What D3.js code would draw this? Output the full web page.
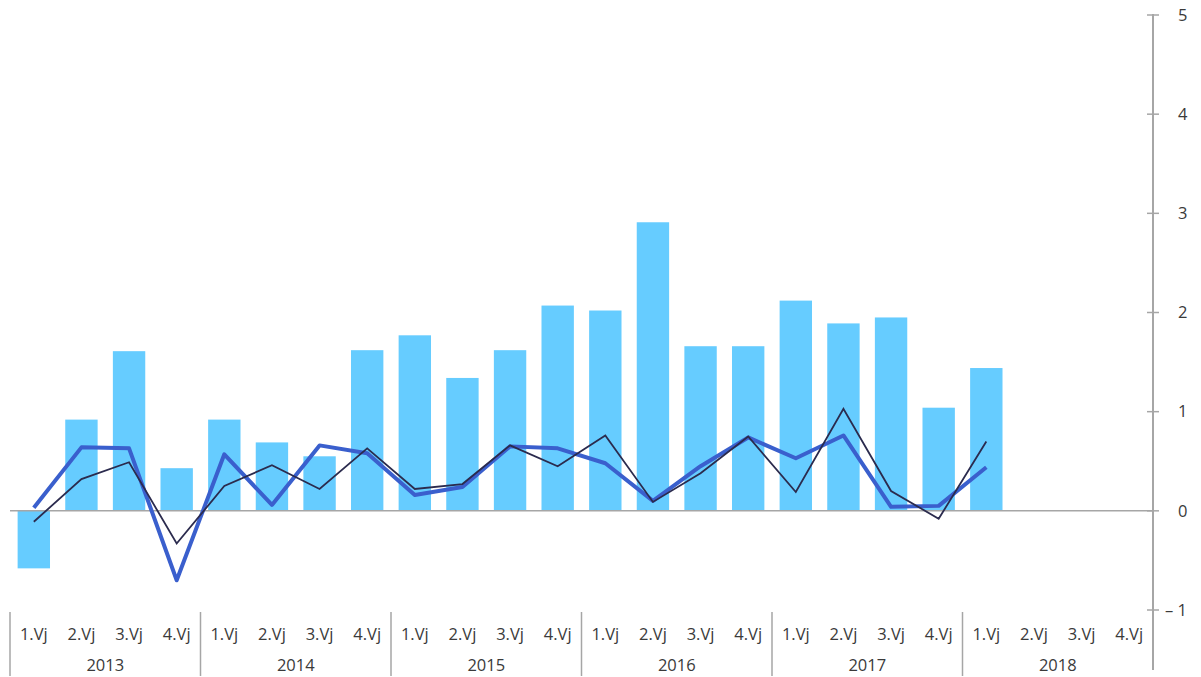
<!DOCTYPE html>
<html lang="de">
<head>
    <meta charset="UTF-8">
    <title>Quartalswerte 2013–2018</title>
    <script src="https://d3js.org/d3.v7.min.js"></script>
    <style>
        body {
            margin: 0;
            background-color: #ffffff;
        }
        svg {
            display: block;
            font-family: 'Open Sans', 'Noto Sans', sans-serif;
        }
        .axis-label {
            fill: #3a3a3a;
            font-size: 16.5px;
        }
    </style>
</head>
<body>
    <svg id="chart" width="1201" height="677"></svg>

    <script>
        const years = ["2013", "2014", "2015", "2016", "2017", "2018"];
        const quarters = ["1.Vj", "2.Vj", "3.Vj", "4.Vj"];

        // Balken (null = kein Wert)
        const barValues = [
            -0.58, 0.92, 1.61, 0.43,
            0.92, 0.69, 0.55, 1.62,
            1.77, 1.34, 1.62, 2.07,
            2.02, 2.91, 1.66, 1.66,
            2.12, 1.89, 1.95, 1.04,
            1.44, null, null, null
        ];
        // dicke blaue Linie
        const thickLine = [
            0.03, 0.64, 0.63, -0.70,
            0.57, 0.06, 0.66, 0.58,
            0.16, 0.24, 0.65, 0.63,
            0.48, 0.10, 0.45, 0.74,
            0.53, 0.76, 0.04, 0.05,
            0.44, null, null, null
        ];
        // dünne dunkle Linie
        const thinLine = [
            -0.11, 0.32, 0.49, -0.33,
            0.25, 0.46, 0.22, 0.63,
            0.22, 0.27, 0.66, 0.45,
            0.76, 0.09, 0.38, 0.75,
            0.19, 1.03, 0.20, -0.08,
            0.70, null, null, null
        ];
        const yTicks = [-1, 0, 1, 2, 3, 4, 5];

        const svg = d3.select("#chart");
        const left = 10, right = 1153;

        const keys = [];
        years.forEach(y => quarters.forEach(q => keys.push(y + "-" + q)));

        const x = d3.scaleBand().domain(keys).range([left, right]).paddingInner(0.32).paddingOuter(0.16);
        const y = d3.scaleLinear().domain([-1, 5]).range([610, 15]);

        // Balken
        svg.append("g").selectAll("rect")
            .data(barValues.map((v, i) => ({ k: keys[i], v })).filter(d => d.v !== null))
            .enter()
            .append("rect")
            .attr("x", d => x(d.k))
            .attr("width", x.bandwidth())
            .attr("y", d => y(Math.max(0, d.v)))
            .attr("height", d => Math.abs(y(d.v) - y(0)))
            .attr("fill", "#66ccff");

        // Nulllinie
        svg.append("line")
            .attr("x1", left).attr("x2", right)
            .attr("y1", y(0)).attr("y2", y(0))
            .attr("stroke", "#a6a6a6").attr("stroke-width", 1.5);

        const line = d3.line()
            .defined(d => d.v !== null)
            .x(d => x(d.k) + x.bandwidth() / 2)
            .y(d => y(d.v));

        svg.append("path")
            .datum(thickLine.map((v, i) => ({ k: keys[i], v })))
            .attr("d", line)
            .attr("fill", "none")
            .attr("stroke", "#3a5fcd")
            .attr("stroke-width", 4)
            .attr("stroke-linejoin", "round");

        svg.append("path")
            .datum(thinLine.map((v, i) => ({ k: keys[i], v })))
            .attr("d", line)
            .attr("fill", "none")
            .attr("stroke", "#2b2b4e")
            .attr("stroke-width", 1.8);

        // rechte Achse
        const yAxis = svg.append("g").attr("transform", `translate(${right},0)`);
        yAxis.append("line")
            .attr("x1", 0).attr("x2", 0)
            .attr("y1", y(5) - 1).attr("y2", 670)
            .attr("stroke", "#a6a6a6").attr("stroke-width", 2);
        yAxis.selectAll(".tick")
            .data(yTicks)
            .enter()
            .append("line")
            .attr("x1", -6).attr("x2", 6)
            .attr("y1", d => y(d)).attr("y2", d => y(d))
            .attr("stroke", "#a6a6a6").attr("stroke-width", 1.5);
        yAxis.selectAll("text")
            .data(yTicks)
            .enter()
            .append("text")
            .attr("class", "axis-label")
            .attr("x", d => d < 0 ? 12 : 25)
            .attr("y", d => y(d))
            .attr("dy", "0.35em")
            .text(d => d < 0 ? "\u2013 " + Math.abs(d) : d);

        // x-Achse: Quartale und Jahre
        const xAxis = svg.append("g");
        keys.forEach((k, i) => {
            xAxis.append("text")
                .attr("class", "axis-label")
                .attr("x", x(k) + x.bandwidth() / 2)
                .attr("y", 640)
                .attr("text-anchor", "middle")
                .text(quarters[i % 4]);
        });

        const step = x.step();
        years.forEach((yr, i) => {
            const x0 = left + i * 4 * step;
            xAxis.append("line")
                .attr("x1", x0).attr("x2", x0)
                .attr("y1", 612).attr("y2", 676)
                .attr("stroke", "#a6a6a6").attr("stroke-width", 1.5);
            xAxis.append("text")
                .attr("class", "axis-label")
                .attr("x", x0 + 2 * step)
                .attr("y", 671)
                .attr("text-anchor", "middle")
                .text(yr);
        });
    </script>
</body>
</html>
